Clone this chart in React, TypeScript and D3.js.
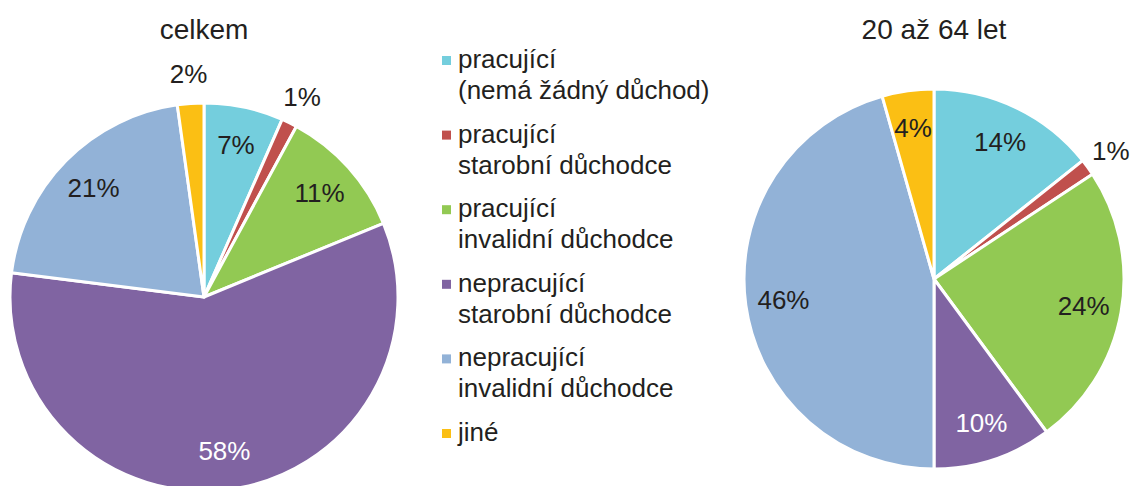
import React from "react";
import * as d3 from "d3";

const categories = [
  "pracující|(nemá žádný důchod)",
  "pracující|starobní důchodce",
  "pracující|invalidní důchodce",
  "nepracující|starobní důchodce",
  "nepracující|invalidní důchodce",
  "jiné",
];
const colors = ["#74CEDD", "#C0504D", "#92C953", "#8064A2", "#92B2D7", "#FBBF14"];
const labelColors = ["#231F20", "#231F20", "#231F20", "#FFFFFF", "#231F20", "#231F20"];

const totalValues = [6.6, 1.3, 10.9, 58.2, 20.8, 2.2];
const age20to64Values = [14.3, 1.4, 24.2, 10.1, 45.6, 4.4];
const titles = ["celkem", "20 až 64 let"];

const W = 1132;
const H = 486;
const FONT = "'Liberation Sans', Arial, sans-serif";

function Pie({ values, cx, cy, r, title, titleY }: { values: number[]; cx: number; cy: number; r: number; title: string; titleY: number }) {
  const pie = d3.pie<number>().sort(null).value((d) => d)(values);
  const arc = d3.arc<d3.PieArcDatum<number>>().innerRadius(0).outerRadius(r);
  const total = d3.sum(values);
  return (
    <g>
      <text x={cx} y={titleY} textAnchor="middle" fontSize={28} fill="#231F20" fontFamily={FONT}>
        {title}
      </text>
      <g transform={`translate(${cx},${cy})`}>
        {pie.map((p, i) => (
          <path key={i} d={arc(p) || ""} fill={colors[i]} stroke="#FFFFFF" strokeWidth={3} strokeLinejoin="round" />
        ))}
        {pie.map((p, i) => {
          const pct = (p.value / total) * 100;
          const outside = pct < 3;
          const lr = outside ? r * 1.15 : r * 0.8;
          const a = (p.startAngle + p.endAngle) / 2;
          const x = Math.sin(a) * lr;
          const y = -Math.cos(a) * lr;
          return (
            <text
              key={"l" + i}
              x={x}
              y={y}
              textAnchor="middle"
              dominantBaseline="central"
              fontSize={26}
              fontFamily={FONT}
              fill={outside ? "#231F20" : labelColors[i]}
            >
              {Math.round(pct)}%
            </text>
          );
        })}
      </g>
    </g>
  );
}

export default function App() {
  const legendY = d3.scaleLinear().domain([0, 1]).range([68, 142.6]);
  return (
    <svg width={W} height={H} style={{ position: "absolute", left: 0, top: 0, background: "#FFFFFF" }}>
      <Pie values={totalValues} cx={204} cy={297} r={194} title={titles[0]} titleY={39} />
      <Pie values={age20to64Values} cx={934} cy={279} r={190} title={titles[1]} titleY={39} />
      <g>
        {categories.map((c, i) => {
          const lines = c.split("|");
          const y = legendY(i);
          return (
            <g key={i}>
              <rect x={442} y={y - 12} width={9} height={9} fill={colors[i]} />
              {lines.map((ln, j) => (
                <text key={j} x={458} y={y + j * 31} fontSize={26} fill="#231F20" fontFamily={FONT}>
                  {ln}
                </text>
              ))}
            </g>
          );
        })}
      </g>
    </svg>
  );
}
